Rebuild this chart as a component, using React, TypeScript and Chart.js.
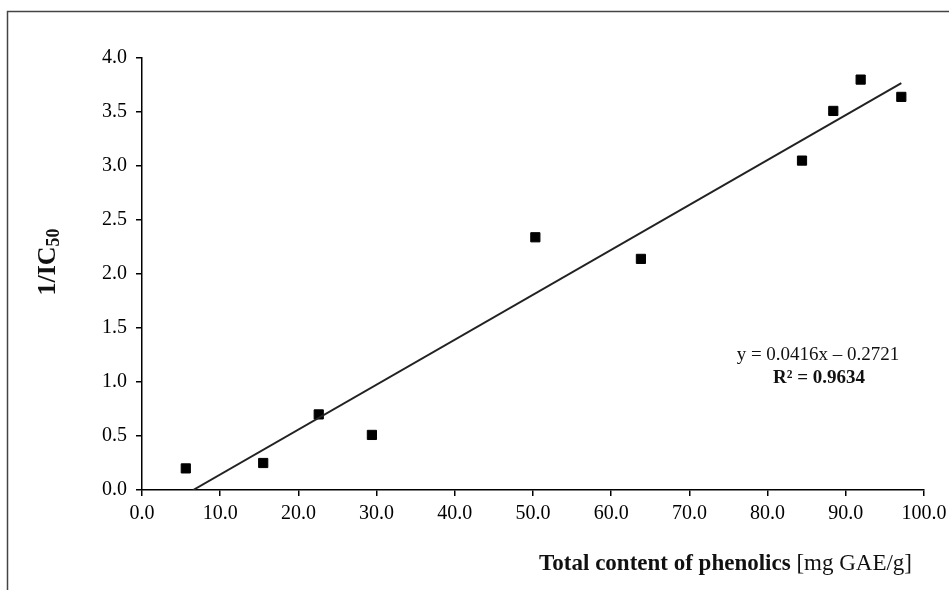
import React, { useEffect, useRef } from "react";
import { Chart, registerables } from "chart.js";

Chart.register(...registerables);

const phenolics = [5.6, 15.5, 22.6, 29.4, 50.3, 63.8, 84.4, 88.4, 91.9, 97.1];
const inverseIC50 = [0.2, 0.25, 0.7, 0.51, 2.34, 2.14, 3.05, 3.51, 3.8, 3.64];
const slope = 0.0416;
const intercept = -0.2721;
const trendXStart = 6.54;
const trendXEnd = 97.1;
const equationText = "y = 0.0416x \u2013 0.2721";
const r2Text = "R\u00b2 = 0.9634";
const xTitleBold = "Total content of phenolics";
const xTitleNormal = " [mg GAE/g]";
const yTitleMain = "1/IC";
const yTitleSub = "50";

const SERIF = '"Liberation Serif", "Times New Roman", serif';

const decorPlugin = {
  id: "decor",
  afterDraw(chart: any) {
    const ctx = chart.ctx as CanvasRenderingContext2D;
    ctx.save();
    // frame
    ctx.strokeStyle = "#444";
    ctx.lineWidth = 1.5;
    ctx.beginPath();
    ctx.moveTo(7.5, chart.height + 2);
    ctx.lineTo(7.5, 11.5);
    ctx.lineTo(chart.width + 2, 11.5);
    ctx.stroke();

    // equation annotation
    ctx.fillStyle = "#111";
    ctx.textAlign = "center";
    ctx.textBaseline = "middle";
    ctx.font = `19px ${SERIF}`;
    ctx.fillText(equationText, 818, 355);
    ctx.font = `bold 19px ${SERIF}`;
    ctx.fillText(r2Text, 819, 378);

    // x title
    ctx.textAlign = "left";
    ctx.font = `bold 23px ${SERIF}`;
    const wb = ctx.measureText(xTitleBold).width;
    ctx.font = `23px ${SERIF}`;
    const wn = ctx.measureText(xTitleNormal).width;
    const total = wb + wn;
    const xs = 912 - total;
    ctx.font = `bold 23px ${SERIF}`;
    ctx.fillText(xTitleBold, xs, 564);
    ctx.font = `23px ${SERIF}`;
    ctx.fillText(xTitleNormal, xs + wb, 564);

    // y title
    ctx.translate(48, 262);
    ctx.rotate(-Math.PI / 2);
    ctx.font = `bold 26px ${SERIF}`;
    const wm = ctx.measureText(yTitleMain).width;
    ctx.font = `bold 18px ${SERIF}`;
    const ws = ctx.measureText(yTitleSub).width;
    const start = -(wm + ws) / 2;
    ctx.font = `bold 26px ${SERIF}`;
    ctx.fillText(yTitleMain, start, 0);
    ctx.font = `bold 18px ${SERIF}`;
    ctx.fillText(yTitleSub, start + wm, 6);
    ctx.restore();
  },
};

export default function App() {
  const ref = useRef<HTMLCanvasElement | null>(null);
  useEffect(() => {
    document.body.style.margin = "0";
    const canvas = ref.current!;
    const chart = new Chart(canvas, {
      type: "scatter",
      data: {
        datasets: [
          {
            type: "line",
            label: "trend",
            data: [
              { x: trendXStart, y: slope * trendXStart + intercept },
              { x: trendXEnd, y: slope * trendXEnd + intercept },
            ],
            borderColor: "#222",
            borderWidth: 2,
            pointRadius: 0,
            fill: false,
          } as any,
          {
            label: "data",
            data: phenolics.map((x, i) => ({ x, y: inverseIC50[i] })),
            pointStyle: "rect",
            pointRadius: 6.5,
            pointBackgroundColor: "#000",
            pointBorderColor: "#000",
            pointBorderWidth: 1,
          },
        ],
      },
      plugins: [decorPlugin],
      options: {
        animation: false,
        responsive: false,
        devicePixelRatio: 1,
        layout: { padding: { left: 0, right: 25, top: 58, bottom: 0 } },
        plugins: {
          legend: { display: false },
          tooltip: { enabled: false },
        },
        scales: {
          x: {
            type: "linear",
            min: 0,
            max: 100,
            afterFit: (s: any) => {
              s.height = 100;
              s.paddingRight = 0;
              s.paddingLeft = 0;
            },
            ticks: {
              stepSize: 10,
              padding: 6,
              color: "#000",
              font: { family: SERIF, size: 20 },
              callback: (v: any) => Number(v).toFixed(1),
            },
            grid: {
              display: true,
              drawOnChartArea: false,
              drawTicks: true,
              tickLength: 6,
              color: "#000",
              lineWidth: 1.5,
            },
            border: { display: true, color: "#000", width: 1.5 },
          },
          y: {
            type: "linear",
            min: 0,
            max: 4,
            afterFit: (s: any) => {
              s.width = 142;
              s.paddingTop = 0;
              s.paddingBottom = 0;
            },
            ticks: {
              stepSize: 0.5,
              padding: 9,
              color: "#000",
              font: { family: SERIF, size: 20 },
              callback: (v: any) => Number(v).toFixed(1),
            },
            grid: {
              display: true,
              drawOnChartArea: false,
              drawTicks: true,
              tickLength: 6,
              color: "#000",
              lineWidth: 1.5,
            },
            border: { display: true, color: "#000", width: 1.5 },
          },
        },
      },
    });
    return () => chart.destroy();
  }, []);
  return (
    <canvas
      ref={ref}
      width={949}
      height={590}
      style={{ display: "block", position: "fixed", left: 0, top: 0 }}
    />
  );
}
